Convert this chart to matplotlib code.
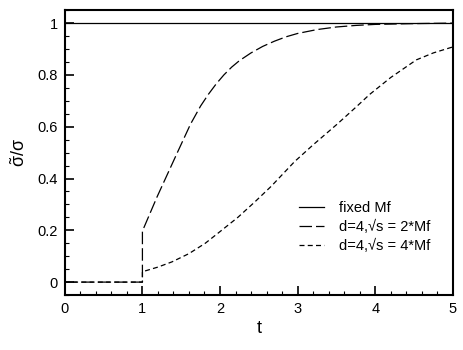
import numpy as np
import matplotlib
matplotlib.use("Agg")
import matplotlib.pyplot as plt
from matplotlib.ticker import MultipleLocator

plt.rcParams['font.family'] = ['Liberation Sans', 'DejaVu Sans']
plt.rcParams['mathtext.fontset'] = 'custom'
plt.rcParams['mathtext.rm'] = 'Liberation Sans'
plt.rcParams['mathtext.it'] = 'Liberation Sans'

# fixed Mf
t_fixed = [0.0, 5.0]
r_fixed = [1.0, 1.0]

# d=4, sqrt(s) = 2*Mf
t_2mf = [0.0, 1.0, 1.0, 1.19, 1.45, 1.62, 1.75, 1.85, 1.95, 2.05, 2.15, 2.25, 2.4,
         2.55, 2.7, 2.85, 3.0, 3.25, 3.5, 3.75, 4.0, 4.5, 5.0]
r_2mf = [0.0, 0.0, 0.197, 0.33, 0.50, 0.61, 0.68, 0.725, 0.765, 0.80, 0.83, 0.855, 0.885,
         0.91, 0.93, 0.947, 0.96, 0.975, 0.985, 0.991, 0.995, 0.998, 1.0]

# d=4, sqrt(s) = 4*Mf
t_4mf = [0.0, 1.0, 1.0, 1.2, 1.38, 1.6, 1.81, 2.0, 2.23, 2.45, 2.66, 2.96, 3.2, 3.51,
         3.75, 3.93, 4.2, 4.53, 4.75, 5.0]
r_4mf = [0.0, 0.0, 0.04, 0.058, 0.078, 0.11, 0.15, 0.195, 0.25, 0.31, 0.37, 0.465, 0.53, 0.61,
         0.675, 0.725, 0.79, 0.858, 0.885, 0.908]

fig = plt.figure(figsize=(4.63, 3.5), dpi=100)
ax = fig.add_axes([0.140, 0.157, 0.838, 0.814])

ax.plot(t_fixed, r_fixed, color='black', lw=0.9, label='fixed Mf')
ax.plot(t_2mf, r_2mf, color='black', lw=0.9, dashes=(10, 3.2), label='d=4,√s = 2*Mf')
ax.plot(t_4mf, r_4mf, color='black', lw=0.9, dashes=(4, 2.6), label='d=4,√s = 4*Mf')

ax.set_xlim(0, 5)
ax.set_ylim(-0.05, 1.05)
ax.xaxis.set_major_locator(MultipleLocator(1))
ax.xaxis.set_minor_locator(MultipleLocator(0.2))
ax.yaxis.set_minor_locator(MultipleLocator(0.05))
ax.set_yticks([0, 0.2, 0.4, 0.6, 0.8, 1.0])
ax.set_yticklabels(['0', '0.2', '0.4', '0.6', '0.8', '1'])
ax.tick_params(which='major', direction='in', length=6.5, width=1.2, labelsize=10.5, pad=5)
ax.tick_params(which='minor', direction='in', length=3, width=0.8)
for s in ax.spines.values():
    s.set_linewidth(1.5)

ax.set_xlabel('t', fontsize=13, labelpad=3)
ax.set_ylabel(r'$\tilde{\sigma}/\sigma$', fontsize=13, labelpad=6)

ax.legend(loc='lower right', bbox_to_anchor=(0.975, 0.10), frameon=False,
          fontsize=10.5, handlelength=1.7, handletextpad=1.0, labelspacing=0.35)

fig.savefig('out.png', dpi=100)
